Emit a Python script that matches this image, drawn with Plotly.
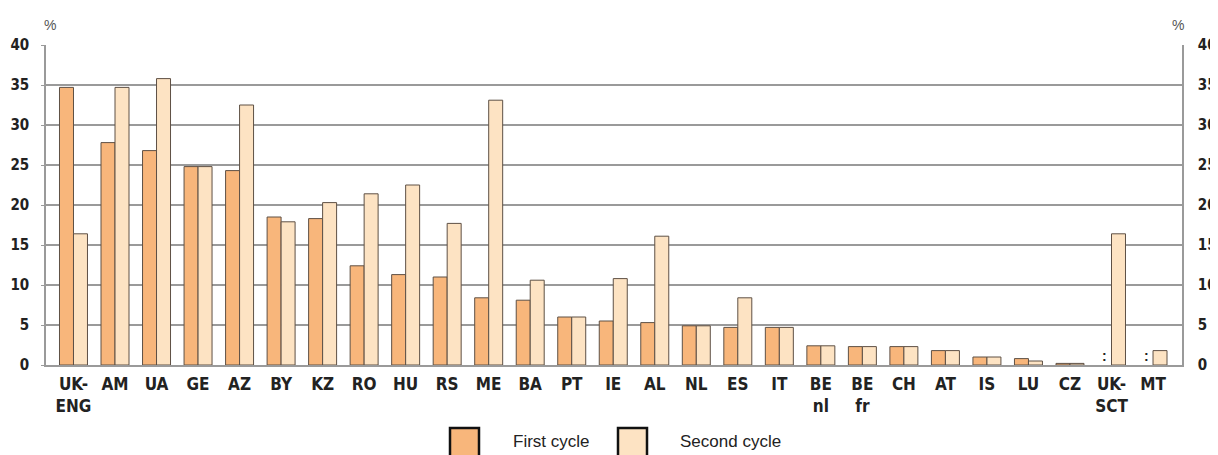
import plotly.graph_objects as go

categories = ["UK-ENG", "AM", "UA", "GE", "AZ", "BY", "KZ", "RO", "HU", "RS", "ME", "BA", "PT",
              "IE", "AL", "NL", "ES", "IT", "BE nl", "BE fr", "CH", "AT", "IS", "LU", "CZ", "UK-SCT", "MT"]
tick_labels = ["UK-<br>ENG", "AM", "UA", "GE", "AZ", "BY", "KZ", "RO", "HU", "RS", "ME", "BA", "PT",
               "IE", "AL", "NL", "ES", "IT", "BE<br>nl", "BE<br>fr", "CH", "AT", "IS", "LU", "CZ", "UK-<br>SCT", "MT"]
first_cycle = [34.7, 27.8, 26.8, 24.8, 24.3, 18.5, 18.3, 12.4, 11.3, 11.0, 8.4, 8.1, 6.0,
               5.5, 5.3, 4.9, 4.7, 4.7, 2.4, 2.3, 2.3, 1.8, 1.0, 0.8, 0.2, None, None]
second_cycle = [16.4, 34.7, 35.8, 24.8, 32.5, 17.9, 20.3, 21.4, 22.5, 17.7, 33.1, 10.6, 6.0,
                10.8, 16.1, 4.9, 8.4, 4.7, 2.4, 2.3, 2.3, 1.8, 1.0, 0.5, 0.2, 16.4, 1.8]
y_ticks = [0, 5, 10, 15, 20, 25, 30, 35, 40]
series_names = ["First cycle", "Second cycle"]

C1 = "#F8B67B"
C2 = "#FDE3C3"
EDGE = "#5e5045"
GRID = "#9a9a9a"
LBL_FONT = "Liberation Sans Narrow, DejaVu Sans Condensed, Liberation Sans, Arial, sans-serif"

fig = go.Figure()
fig.add_trace(go.Bar(x=categories, y=first_cycle, name=series_names[0],
                     marker=dict(color=C1, line=dict(color=EDGE, width=1)), showlegend=False))
fig.add_trace(go.Bar(x=categories, y=second_cycle, name=series_names[1],
                     marker=dict(color=C2, line=dict(color=EDGE, width=1)), showlegend=False))
# invisible trace to activate right axis
fig.add_trace(go.Scatter(x=[categories[0]], y=[0], yaxis="y2", mode="markers",
                         marker=dict(opacity=0), hoverinfo="skip", showlegend=False))

OFF = 8  # page body margin
W, H = 1218 - OFF, 455 - OFF
# plot area on screen: x 46..1182, y 45..365
ml, mt = 46 - OFF, 45 - OFF
mr, mb = 1218 - 1182, 455 - 365
pw, ph = W - ml - mr, H - mt - mb

def px_x(px):
    return (px - OFF - ml) / pw

def px_y(py):
    return (H - mb - (py - OFF)) / ph

fig.update_layout(
    width=W, height=H,
    margin=dict(l=ml, r=mr, t=mt, b=mb, autoexpand=False),
    paper_bgcolor="white", plot_bgcolor="white",
    barmode="group", bargap=0.326, bargroupgap=0,
    xaxis=dict(type="category", range=[-0.662, 26.698], tickvals=categories, ticktext=tick_labels,
               tickfont=dict(family=LBL_FONT, size=17, color="#222222", weight="bold"),
               showgrid=False, showline=True, linecolor=GRID, linewidth=1.5,
               ticks="", ticklabelstandoff=3, automargin=False),
    yaxis=dict(range=[0, 40], tickvals=y_ticks, showgrid=True, gridcolor=GRID, gridwidth=1.5,
               tickfont=dict(family=LBL_FONT, size=15, color="#222222", weight="bold"),
               showline=True, linecolor=GRID, linewidth=1.5, ticks="outside", ticklen=3,
               tickcolor=GRID, ticklabelstandoff=9, zeroline=False, automargin=False),
    yaxis2=dict(range=[0, 40], tickvals=y_ticks, overlaying="y", side="right", showgrid=False,
                tickfont=dict(family=LBL_FONT, size=15, color="#222222", weight="bold"),
                showline=True, linecolor=GRID, linewidth=1.5, ticks="", ticklabelstandoff=11,
                zeroline=False, automargin=False),
)

annotations = [
    dict(x=px_x(50), y=px_y(25), xref="paper", yref="paper", text="%", showarrow=False,
         xanchor="center", yanchor="middle",
         font=dict(family="Liberation Sans, Arial", size=14, color="#555555")),
    dict(x=px_x(1178), y=px_y(25), xref="paper", yref="paper", text="%", showarrow=False,
         xanchor="center", yanchor="middle",
         font=dict(family="Liberation Sans, Arial", size=14, color="#555555")),
]
# missing-value markers
for cat, v in zip(categories, first_cycle):
    if v is None:
        annotations.append(dict(x=cat, y=0, xref="x", yref="y", text=":", showarrow=False,
                                xshift=-7, yshift=9, yanchor="middle",
                                font=dict(family="Liberation Sans, Arial", size=14,
                                          color="#222222", weight="bold")))

# custom legend
legend_items = [(450, 511, C1, series_names[0]), (618, 678, C2, series_names[1])]
shapes = []
for bx, tx, col, name in legend_items:
    shapes.append(dict(type="rect", xref="paper", yref="paper",
                       x0=px_x(bx), x1=px_x(bx + 29), y0=px_y(428), y1=px_y(457),
                       fillcolor=col, line=dict(color="#111111", width=2.5)))
    annotations.append(dict(x=px_x(tx), y=px_y(441), xref="paper", yref="paper", text=name,
                            showarrow=False, xanchor="left", yanchor="middle",
                            font=dict(family="Liberation Sans, Arial", size=17, color="#222222")))

fig.update_layout(annotations=annotations, shapes=shapes)
fig.write_html("out.html")
